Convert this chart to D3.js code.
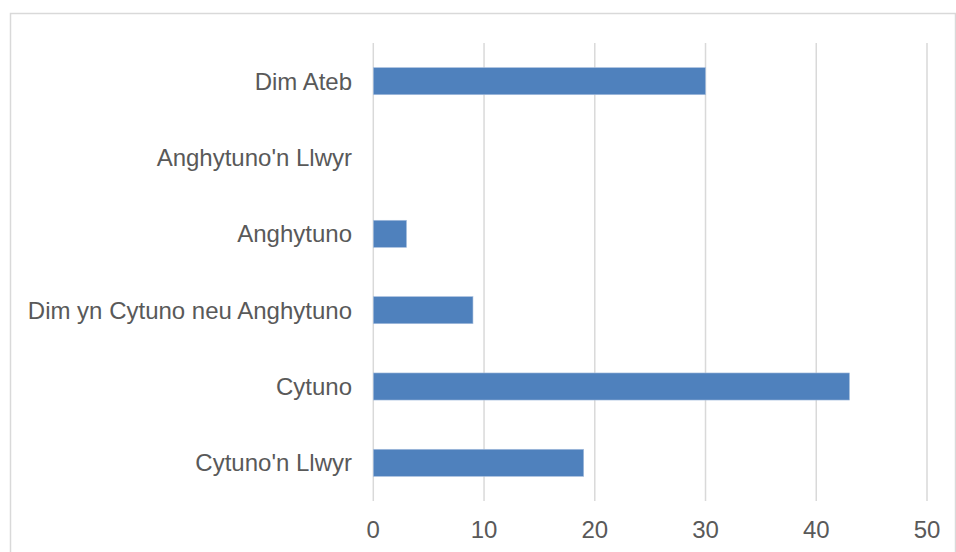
<!DOCTYPE html>
<html><head><meta charset="utf-8">
<script src="https://cdn.jsdelivr.net/npm/d3@7"></script>
<style>body{margin:0;background:#fff}svg{display:block}</style>
</head><body>
<svg id="c" width="956" height="552"></svg>
<script>
const categories = ["Dim Ateb","Anghytuno'n Llwyr","Anghytuno","Dim yn Cytuno neu Anghytuno","Cytuno","Cytuno'n Llwyr"];
const values = [30, 0, 3, 9, 43, 19];
const xTicks = [0, 10, 20, 30, 40, 50];

const svg = d3.select("#c");
const font = "'Liberation Sans', Arial, sans-serif";
svg.append("rect").attr("x",10.5).attr("y",13.5).attr("width",945).attr("height",560)
  .attr("fill","#fff").attr("stroke","#d9d9d9").attr("stroke-width",1.5);

const x = d3.scaleLinear().domain([0,50]).range([373.3,927]);
const y = d3.scaleBand().domain(categories).range([43,501]).paddingInner(0.645).paddingOuter(0.3225);

const g = svg.append("g");
g.selectAll("line.grid").data(xTicks).enter().append("line")
  .attr("x1",d=>x(d)).attr("x2",d=>x(d)).attr("y1",43).attr("y2",501)
  .attr("stroke","#d9d9d9").attr("stroke-width",1.5);

g.selectAll("rect.bar").data(values).enter().append("rect")
  .attr("x",x(0)).attr("y",(d,i)=>y(categories[i]))
  .attr("width",d=>x(d)-x(0)).attr("height",y.bandwidth())
  .attr("fill","#4f81bd").attr("stroke",d=>d>0?"#a9c0de":"none").attr("stroke-width",0.6);

g.selectAll("text.cat").data(categories).enter().append("text")
  .attr("x",352).attr("y",d=>y(d)+y.bandwidth()/2+8.6)
  .attr("text-anchor","end").attr("font-family",font).attr("font-size",24)
  .attr("fill","#595959").text(d=>d);

g.selectAll("text.tick").data(xTicks).enter().append("text")
  .attr("x",d=>x(d)).attr("y",537.5)
  .attr("text-anchor","middle").attr("font-family",font).attr("font-size",24)
  .attr("fill","#595959").text(d=>d);
</script>
</body></html>
